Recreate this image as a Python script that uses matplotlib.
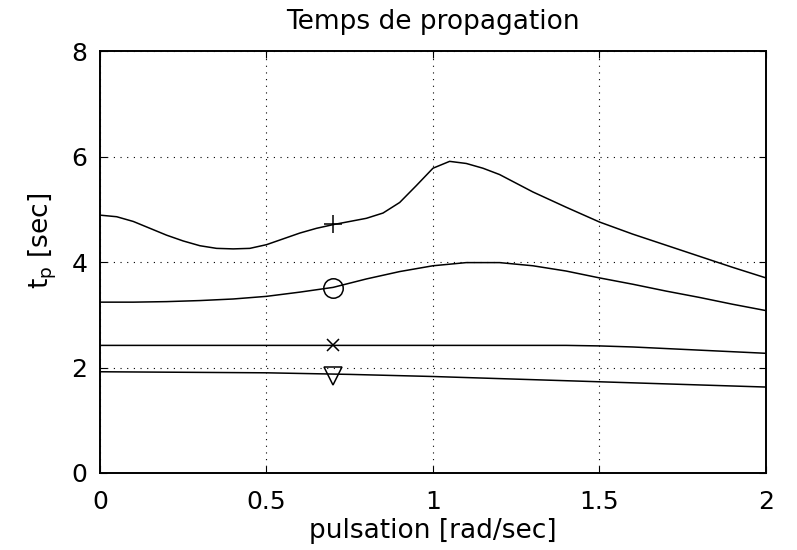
import numpy as np
import matplotlib
matplotlib.use("Agg")
import matplotlib.pyplot as plt

plt.rcParams["font.family"] = ["DejaVu Sans"]

# courbe du haut (+)
x1 = [0, 0.05, 0.1, 0.15, 0.2, 0.25, 0.3, 0.35, 0.4, 0.45, 0.5, 0.55, 0.6,
      0.65, 0.7, 0.75, 0.8, 0.85, 0.9, 0.95, 1.0, 1.05, 1.1, 1.15, 1.2, 1.3,
      1.4, 1.5, 1.6, 1.7, 1.8, 1.9, 2.0]
y1 = [4.89, 4.86, 4.77, 4.64, 4.51, 4.40, 4.31, 4.26, 4.25, 4.26, 4.33, 4.44,
      4.55, 4.64, 4.71, 4.77, 4.83, 4.93, 5.13, 5.45, 5.78, 5.91, 5.87, 5.78,
      5.66, 5.33, 5.04, 4.76, 4.53, 4.32, 4.11, 3.90, 3.70]

# courbe (o)
x2 = [0, 0.1, 0.2, 0.3, 0.4, 0.5, 0.6, 0.7, 0.8, 0.9, 1.0, 1.1, 1.2, 1.3,
      1.4, 1.5, 1.6, 1.7, 1.8, 1.9, 2.0]
y2 = [3.24, 3.24, 3.25, 3.27, 3.30, 3.35, 3.43, 3.52, 3.68, 3.82, 3.93, 3.99,
      3.99, 3.93, 3.83, 3.70, 3.58, 3.45, 3.33, 3.20, 3.08]

# courbe (x)
x3 = [0, 0.5, 1.0, 1.4, 1.5, 1.6, 1.7, 1.8, 1.9, 2.0]
y3 = [2.42, 2.42, 2.42, 2.42, 2.41, 2.39, 2.36, 2.33, 2.30, 2.27]

# courbe (v)
x4 = [0, 0.25, 0.5, 0.75, 1.0, 1.25, 1.5, 1.75, 2.0]
y4 = [1.92, 1.91, 1.90, 1.87, 1.83, 1.78, 1.73, 1.68, 1.63]

# marqueurs places a w = 0.7
mark_x = 0.7
mark_y = [4.72, 3.50, 2.42, 1.84]
mark_style = ["+", "o", "x", "v"]

fig = plt.figure(figsize=(7.97, 5.5), dpi=100)
ax = fig.add_axes([0.1255, 0.14, 0.8355, 0.767])

for xs, ys in [(x1, y1), (x2, y2), (x3, y3), (x4, y4)]:
    ax.plot(xs, ys, color="black", lw=1.1)

sizes = {"+": 13, "o": 14, "x": 9, "v": 13}
for my, ms in zip(mark_y, mark_style):
    ax.plot(mark_x, my, marker=ms, ms=sizes[ms], mfc="none", mec="black",
            mew=1.1, color="black", ls="none")

ax.set_xlim(0, 2)
ax.set_ylim(0, 8)
ax.set_xticks([0, 0.5, 1, 1.5, 2])
ax.set_xticklabels(["0", "0.5", "1", "1.5", "2"])
ax.set_yticks([0, 2, 4, 6, 8])
ax.grid(True, color="black", ls=(0, (1, 5)), lw=0.8)
ax.tick_params(direction="in", top=True, right=True, length=5, labelsize=18,
               colors="black", pad=9)
ax.tick_params(axis="x", pad=12)
for s in ax.spines.values():
    s.set_linewidth(1.4)

ax.set_title("Temps de propagation", fontsize=19, pad=16)
ax.set_xlabel("pulsation [rad/sec]", fontsize=19, labelpad=3)
ax.set_ylabel("t$_\\mathregular{p}$ [sec]", fontsize=19)
ax.yaxis.set_label_coords(-0.062, 0.55)

fig.savefig("out.png", dpi=100)
